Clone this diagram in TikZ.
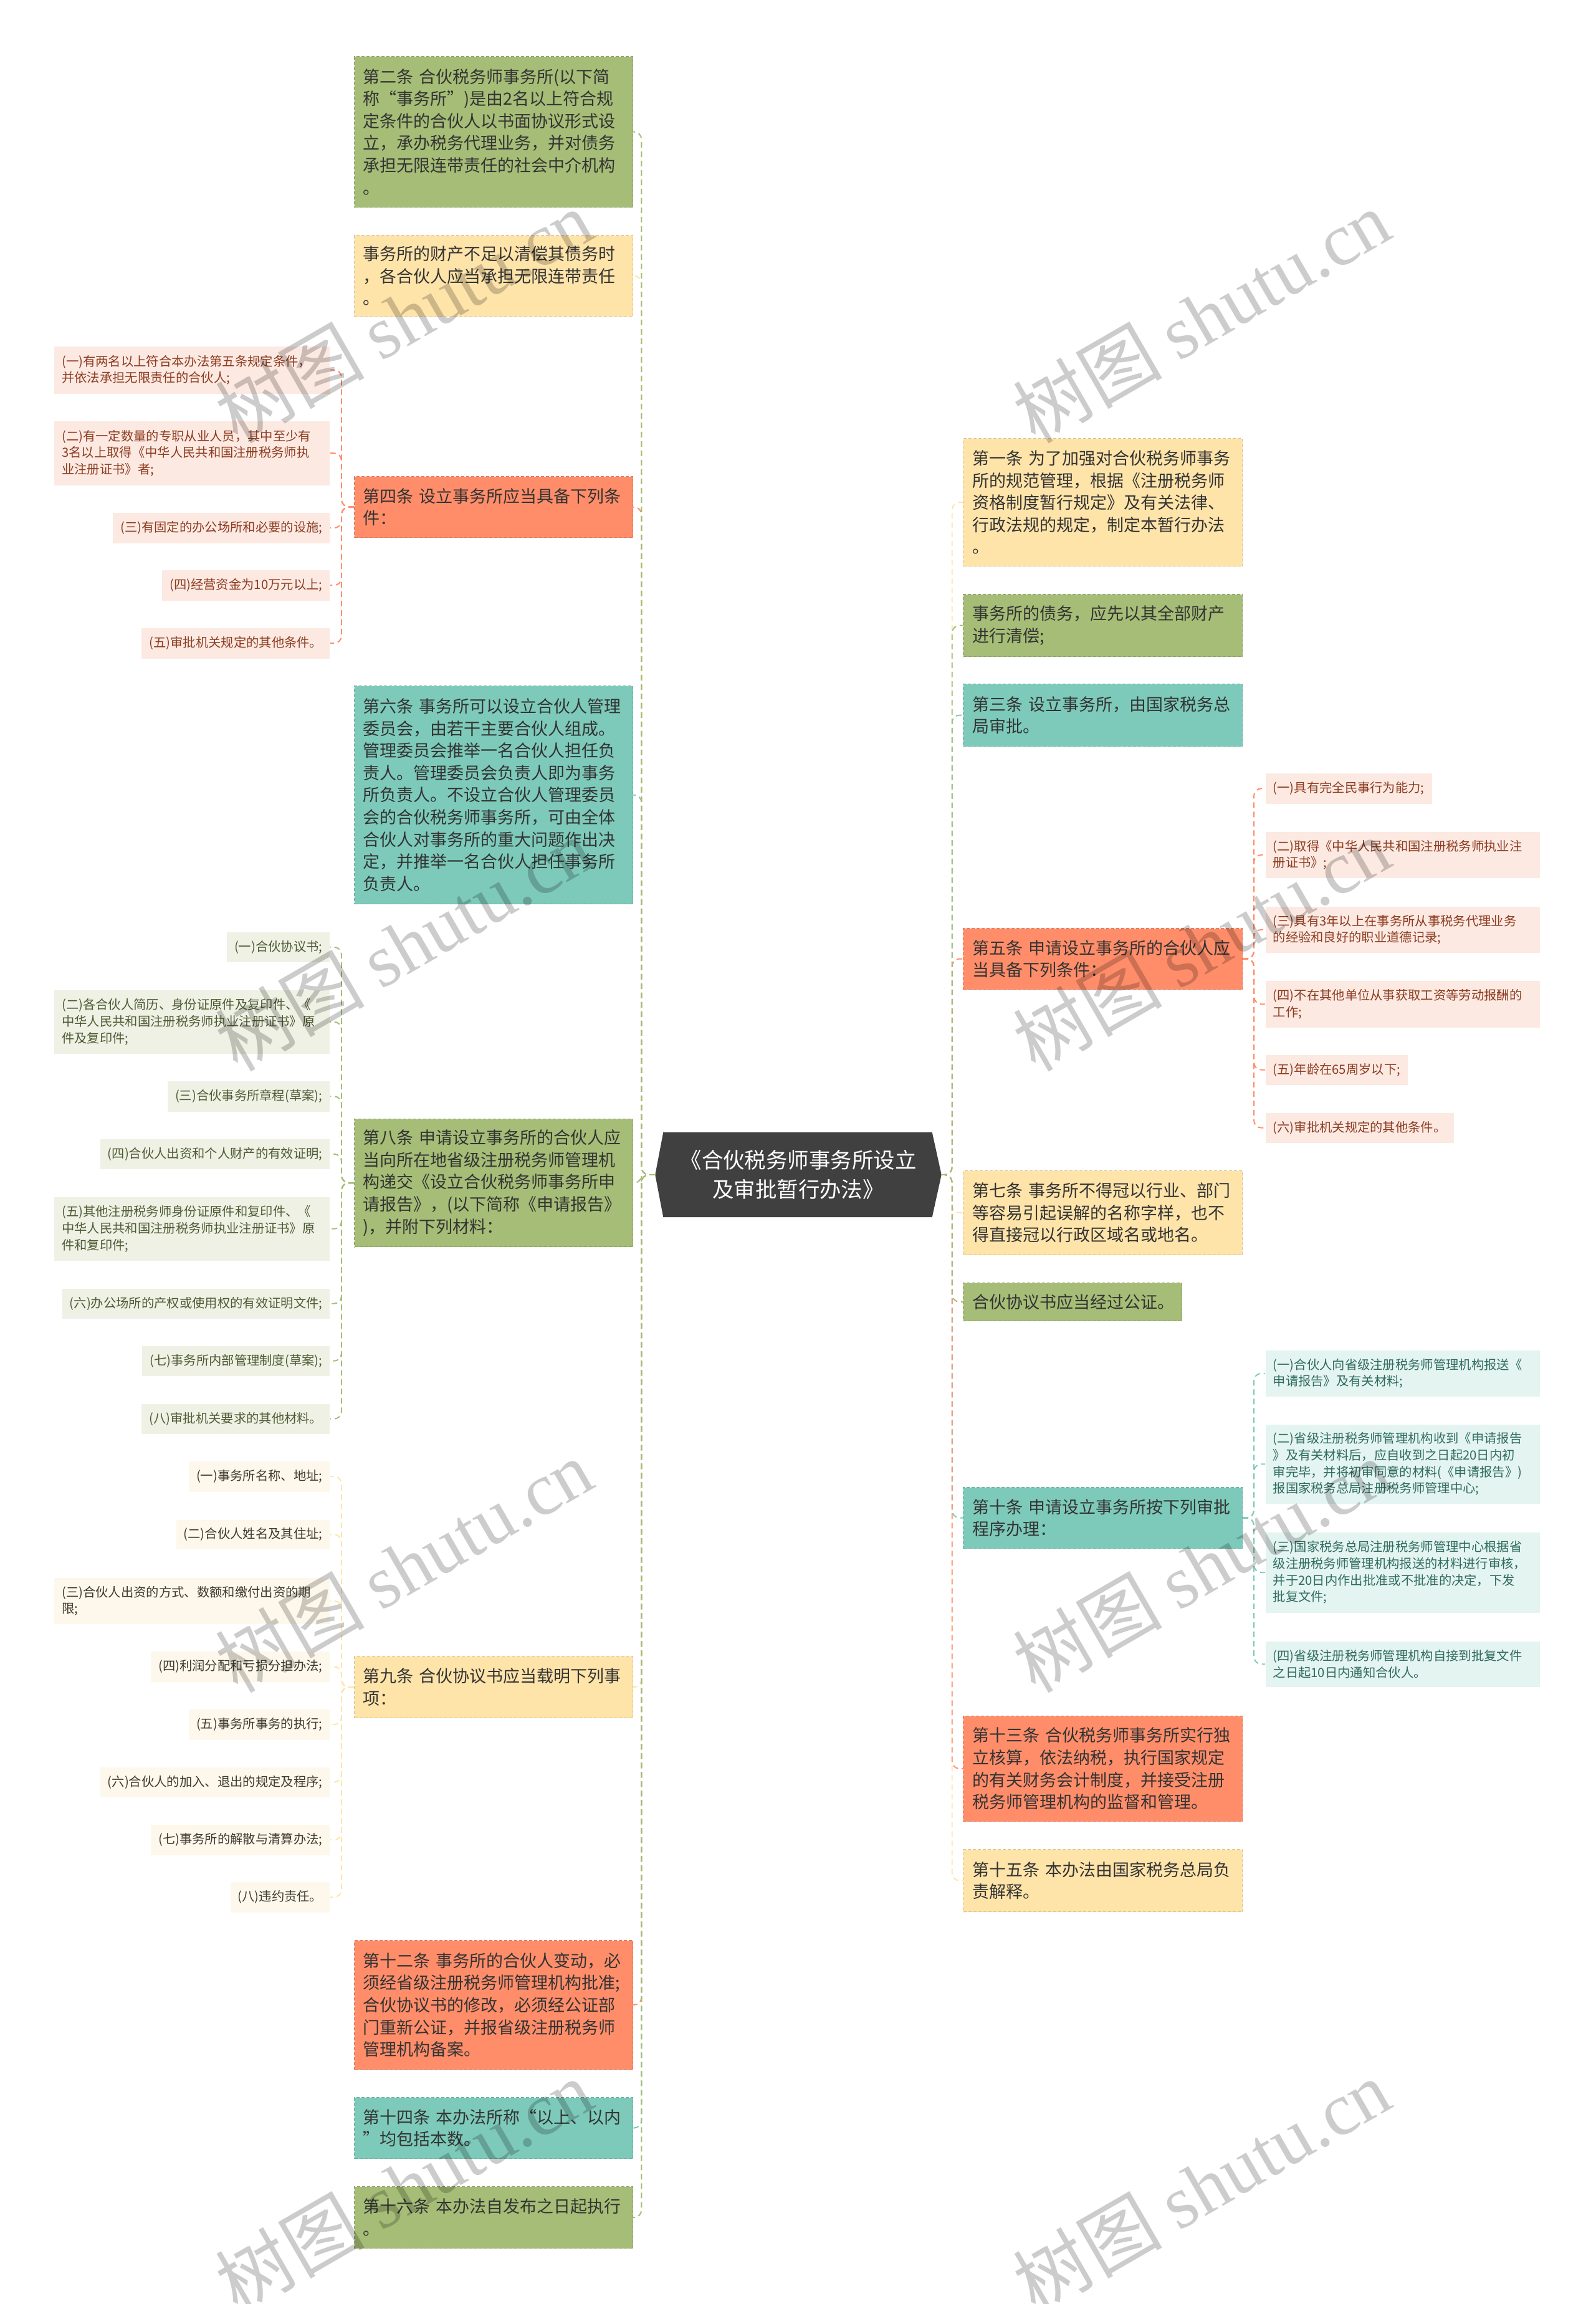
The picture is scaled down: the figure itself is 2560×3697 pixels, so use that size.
\documentclass[tikz,border=0pt]{standalone}
\usepackage{fontspec}
\setmainfont{Noto Sans CJK SC}
\newfontfamily\wmlatin{Liberation Serif}
\definecolor{cgreen}{HTML}{A5BD76}
\definecolor{cyellow}{HTML}{FFE4AA}
\definecolor{csalmon}{HTML}{FF8D6A}
\definecolor{cteal}{HTML}{7DCABA}
\definecolor{cdark}{HTML}{404040}
\definecolor{txtmain}{HTML}{333333}
\definecolor{pinkL}{HTML}{FCE9E2}
\definecolor{pinkT}{HTML}{8C3B1F}
\definecolor{greenL}{HTML}{EEF1E4}
\definecolor{greenT}{HTML}{4F5A35}
\definecolor{creamL}{HTML}{FDF8EB}
\definecolor{creamT}{HTML}{3E3A30}
\definecolor{tealL}{HTML}{E4F4F0}
\definecolor{tealT}{HTML}{2F6B5F}
\newcommand\fmain{\fontsize{7.68pt}{10.13pt}\selectfont}
\newcommand\fsmall{\fontsize{5.78pt}{7.6pt}\selectfont}
\newcommand\fcenter{\fontsize{9.8pt}{13.4pt}\selectfont}
\pgfdeclarelayer{background}
\pgfsetlayers{background,main}
\tikzset{
  mainL/.style={rectangle, anchor=north west, text width=41.9mm, inner xsep=1.4mm, inner ysep=0pt, align=left, font=\fmain, text=txtmain, line width=0.3pt, dash pattern=on 0.5mm off 0.3mm},
  mainR/.style={rectangle, anchor=north west, text width=41.8mm, inner xsep=1.5mm, inner ysep=0pt, align=left, font=\fmain, text=txtmain, line width=0.3pt, dash pattern=on 0.5mm off 0.3mm},
  cg/.style={fill=cgreen, draw=cgreen!85!black},
  cy/.style={fill=cyellow, draw=cyellow!85!black},
  cs/.style={fill=csalmon, draw=csalmon!85!black},
  ct/.style={fill=cteal, draw=cteal!85!black},
  smL/.style={rectangle, anchor=north east, inner xsep=1.2mm, inner ysep=0pt, align=left, font=\fsmall},
  smR/.style={rectangle, anchor=north west, inner xsep=1.2mm, inner ysep=0pt, align=left, font=\fsmall},
  pinkS/.style={fill=pinkL, text=pinkT},
  greenS/.style={fill=greenL, text=greenT},
  creamS/.style={fill=creamL, text=creamT},
  tealS/.style={fill=tealL, text=tealT},
  conn/.style={line width=0.55pt, dash pattern=on 0.9mm off 0.6mm, rounded corners=1.2mm},
  centernode/.style={rectangle, minimum width=45.8mm, minimum height=13.5mm, inner sep=0pt, align=center, text=white, font=\fcenter},
  wm/.style={text=black, text opacity=0.2, inner sep=0pt, rotate=30, font=\fontsize{34pt}{40pt}\selectfont}
}
\begin{document}
\begin{tikzpicture}[x=0.1mm,y=-0.1mm]
\useasboundingbox (0,0) rectangle (2560,3697);
\begin{pgfonlayer}{background}
\fill[white] (0,0) rectangle (2560,3697);
\end{pgfonlayer}

% ---------- centre ----------
\node[centernode] (C) at (1281,1885) {《合伙税务师事务所设立\\及审批暂行办法》};
\begin{pgfonlayer}{background}
\fill[cdark] (C.west) -- ([xshift=1.3mm]C.north west) -- ([xshift=-1.5mm]C.north east) -- (C.east) -- ([xshift=-1.5mm]C.south east) -- ([xshift=1.3mm]C.south west) -- cycle;
\end{pgfonlayer}

% ---------- left main nodes ----------
\node[mainL, cg, minimum height=24.2mm] (L2) at (568,90) {第二条 合伙税务师事务所(以下简\\称“事务所”)是由2名以上符合规\\定条件的合伙人以书面协议形式设\\立，承办税务代理业务，并对债务\\承担无限连带责任的社会中介机构\\。};
\node[mainL, cy, minimum height=13.0mm] (Lcc) at (568,377) {事务所的财产不足以清偿其债务时\\，各合伙人应当承担无限连带责任\\。};
\node[mainL, cs, minimum height=9.8mm] (L4) at (568,764) {第四条 设立事务所应当具备下列条\\件：};
\node[mainL, ct, minimum height=35.0mm] (L6) at (568,1100) {第六条 事务所可以设立合伙人管理\\委员会，由若干主要合伙人组成。\\管理委员会推举一名合伙人担任负\\责人。管理委员会负责人即为事务\\所负责人。不设立合伙人管理委员\\会的合伙税务师事务所，可由全体\\合伙人对事务所的重大问题作出决\\定，并推举一名合伙人担任事务所\\负责人。};
\node[mainL, cg, minimum height=20.5mm] (L8) at (568,1795) {第八条 申请设立事务所的合伙人应\\当向所在地省级注册税务师管理机\\构递交《设立合伙税务师事务所申\\请报告》，(以下简称《申请报告》\\)，并附下列材料：};
\node[mainL, cy, minimum height=9.9mm] (L9) at (568,2657) {第九条 合伙协议书应当载明下列事\\项：};
\node[mainL, cs, minimum height=20.7mm] (L12) at (568,3113) {第十二条 事务所的合伙人变动，必\\须经省级注册税务师管理机构批准;\\合伙协议书的修改，必须经公证部\\门重新公证，并报省级注册税务师\\管理机构备案。};
\node[mainL, ct, minimum height=9.8mm] (L14) at (568,3365) {第十四条 本办法所称“以上、以内\\”均包括本数。};
\node[mainL, cg, minimum height=9.9mm] (L16) at (568,3508) {第十六条 本办法自发布之日起执行\\。};

% ---------- right main nodes ----------
\node[mainR, cy, minimum height=20.5mm] (R1) at (1545,703) {第一条 为了加强对合伙税务师事务\\所的规范管理，根据《注册税务师\\资格制度暂行规定》及有关法律、\\行政法规的规定，制定本暂行办法\\。};
\node[mainR, cg, minimum height=10.0mm] (R2) at (1545,953) {事务所的债务，应先以其全部财产\\进行清偿;};
\node[mainR, ct, minimum height=10.0mm] (R3) at (1545,1097) {第三条 设立事务所，由国家税务总\\局审批。};
\node[mainR, cs, minimum height=9.8mm] (R5) at (1545,1489) {第五条 申请设立事务所的合伙人应\\当具备下列条件：};
\node[mainR, cy, minimum height=13.5mm] (R7) at (1545,1878) {第七条 事务所不得冠以行业、部门\\等容易引起误解的名称字样，也不\\得直接冠以行政区域名或地名。};
\node[mainR, cg, minimum height=6.1mm, text width=32.1mm] (R8) at (1545,2058) {合伙协议书应当经过公证。};
\node[mainR, ct, minimum height=9.8mm] (R10) at (1545,2386) {第十条 申请设立事务所按下列审批\\程序办理：};
\node[mainR, cs, minimum height=16.9mm] (R13) at (1545,2753) {第十三条 合伙税务师事务所实行独\\立核算，依法纳税，执行国家规定\\的有关财务会计制度，并接受注册\\税务师管理机构的监督和管理。};
\node[mainR, cy, minimum height=10.0mm] (R15) at (1545,2967) {第十五条 本办法由国家税务总局负\\责解释。};

% ---------- children of 第四条 ----------
\node[smL, pinkS, minimum height=7.6mm, text width=41.8mm] (a1) at (530,555) {(一)有两名以上符合本办法第五条规定条件，\\并依法承担无限责任的合伙人;};
\node[smL, pinkS, minimum height=10.3mm, text width=41.8mm] (a2) at (530,675) {(二)有一定数量的专职从业人员，其中至少有\\3名以上取得《中华人民共和国注册税务师执\\业注册证书》者;};
\node[smL, pinkS, minimum height=4.9mm] (a3) at (530,822) {(三)有固定的办公场所和必要的设施;};
\node[smL, pinkS, minimum height=4.9mm] (a4) at (530,914) {(四)经营资金为10万元以上;};
\node[smL, pinkS, minimum height=4.9mm] (a5) at (530,1007) {(五)审批机关规定的其他条件。};

% ---------- children of 第八条 ----------
\node[smL, greenS, minimum height=4.8mm] (b1) at (530,1495) {(一)合伙协议书;};
\node[smL, greenS, minimum height=10.2mm, text width=41.8mm] (b2) at (530,1588) {(二)各合伙人简历、身份证原件及复印件、《\\中华人民共和国注册税务师执业注册证书》原\\件及复印件;};
\node[smL, greenS, minimum height=4.9mm] (b3) at (530,1734) {(三)合伙事务所章程(草案);};
\node[smL, greenS, minimum height=4.8mm] (b4) at (530,1827) {(四)合伙人出资和个人财产的有效证明;};
\node[smL, greenS, minimum height=10.2mm, text width=41.8mm] (b5) at (530,1920) {(五)其他注册税务师身份证原件和复印件、《\\中华人民共和国注册税务师执业注册证书》原\\件和复印件;};
\node[smL, greenS, minimum height=4.8mm] (b6) at (530,2067) {(六)办公场所的产权或使用权的有效证明文件;};
\node[smL, greenS, minimum height=4.8mm] (b7) at (530,2159) {(七)事务所内部管理制度(草案);};
\node[smL, greenS, minimum height=4.8mm] (b8) at (530,2252) {(八)审批机关要求的其他材料。};

% ---------- children of 第九条 ----------
\node[smL, creamS, minimum height=4.9mm] (c1) at (530,2344) {(一)事务所名称、地址;};
\node[smL, creamS, minimum height=4.7mm] (c2) at (530,2438) {(二)合伙人姓名及其住址;};
\node[smL, creamS, minimum height=7.4mm, text width=41.8mm] (c3) at (530,2531) {(三)合伙人出资的方式、数额和缴付出资的期\\限;};
\node[smL, creamS, minimum height=4.9mm] (c4) at (530,2649) {(四)利润分配和亏损分担办法;};
\node[smL, creamS, minimum height=4.9mm] (c5) at (530,2742) {(五)事务所事务的执行;};
\node[smL, creamS, minimum height=4.8mm] (c6) at (530,2835) {(六)合伙人的加入、退出的规定及程序;};
\node[smL, creamS, minimum height=4.9mm] (c7) at (530,2927) {(七)事务所的解散与清算办法;};
\node[smL, creamS, minimum height=4.9mm] (c8) at (530,3019) {(八)违约责任。};

% ---------- children of 第五条 ----------
\node[smR, pinkS, minimum height=4.9mm] (d1) at (2030,1240) {(一)具有完全民事行为能力;};
\node[smR, pinkS, minimum height=7.4mm, text width=41.6mm] (d2) at (2030,1334) {(二)取得《中华人民共和国注册税务师执业注\\册证书》;};
\node[smR, pinkS, minimum height=7.4mm, text width=41.6mm] (d3) at (2030,1454) {(三)具有3年以上在事务所从事税务代理业务\\的经验和良好的职业道德记录;};
\node[smR, pinkS, minimum height=7.5mm, text width=41.6mm] (d4) at (2030,1573) {(四)不在其他单位从事获取工资等劳动报酬的\\工作;};
\node[smR, pinkS, minimum height=4.8mm] (d5) at (2030,1692) {(五)年龄在65周岁以下;};
\node[smR, pinkS, minimum height=4.8mm] (d6) at (2030,1785) {(六)审批机关规定的其他条件。};

% ---------- children of 第十条 ----------
\node[smR, tealS, minimum height=7.4mm, text width=41.6mm] (e1) at (2030,2166) {(一)合伙人向省级注册税务师管理机构报送《\\申请报告》及有关材料;};
\node[smR, tealS, minimum height=12.7mm, text width=41.6mm] (e2) at (2030,2285) {(二)省级注册税务师管理机构收到《申请报告\\》及有关材料后，应自收到之日起20日内初\\审完毕，并将初审同意的材料(《申请报告》)\\报国家税务总局注册税务师管理中心;};
\node[smR, tealS, minimum height=12.9mm, text width=41.6mm] (e3) at (2030,2458) {(三)国家税务总局注册税务师管理中心根据省\\级注册税务师管理机构报送的材料进行审核，\\并于20日内作出批准或不批准的决定，下发\\批复文件;};
\node[smR, tealS, minimum height=7.3mm, text width=41.6mm] (e4) at (2030,2633) {(四)省级注册税务师管理机构自接到批复文件\\之日起10日内通知合伙人。};

% ---------- connectors: centre to main nodes ----------
\begin{pgfonlayer}{background}
\draw[conn, cyellow] (C.west) -- ++(-22,0) |- (Lcc.east);
\draw[conn, cyellow] (C.west) -- ++(-22,0) |- (L9.east);
\draw[conn, cteal] (C.west) -- ++(-22,0) |- (L6.east);
\draw[conn, cteal] (C.west) -- ++(-22,0) |- (L14.east);
\draw[conn, csalmon] (C.west) -- ++(-22,0) |- (L4.east);
\draw[conn, csalmon] (C.west) -- ++(-22,0) |- (L12.east);
\draw[conn, cgreen] (C.west) -- ++(-22,0) |- (L2.east);
\draw[conn, cgreen] (C.west) -- ++(-22,0) |- (L8.east);
\draw[conn, cgreen] (C.west) -- ++(-22,0) |- (L16.east);

\draw[conn, cyellow] (C.east) -- ++(17,0) |- (R1.west);
\draw[conn, cyellow] (C.east) -- ++(17,0) |- (R7.west);
\draw[conn, cyellow] (C.east) -- ++(17,0) |- (R15.west);
\draw[conn, cteal] (C.east) -- ++(17,0) |- (R3.west);
\draw[conn, cteal] (C.east) -- ++(17,0) |- (R10.west);
\draw[conn, csalmon] (C.east) -- ++(17,0) |- (R5.west);
\draw[conn, csalmon] (C.east) -- ++(17,0) |- (R13.west);
\draw[conn, cgreen] (C.east) -- ++(17,0) |- (R2.west);
\draw[conn, cgreen] (C.east) -- ++(17,0) |- (R8.west);

% ---------- connectors: main nodes to children ----------
\foreach \n in {a1,a2,a3,a4,a5}
  \draw[conn, csalmon] (L4.west) -- ++(-20,0) |- (\n.east);
\foreach \n in {b1,b2,b3,b4,b5,b6,b7,b8}
  \draw[conn, cgreen] (L8.west) -- ++(-20,0) |- (\n.east);
\foreach \n in {c1,c2,c3,c4,c5,c6,c7,c8}
  \draw[conn, cyellow] (L9.west) -- ++(-20,0) |- (\n.east);
\foreach \n in {d1,d2,d3,d4,d5,d6}
  \draw[conn, csalmon] (R5.east) -- ++(18,0) |- (\n.west);
\foreach \n in {e1,e2,e3,e4}
  \draw[conn, cteal] (R10.east) -- ++(18,0) |- (\n.west);
\end{pgfonlayer}

% ---------- watermarks ----------
\node[wm] (w1) at (648,507) {树图 {\wmlatin shutu.cn}};
\node[wm] (w2) at (1928,507) {树图 {\wmlatin shutu.cn}};
\node[wm] (w3) at (648,1515) {树图 {\wmlatin shutu.cn}};
\node[wm] (w4) at (1928,1515) {树图 {\wmlatin shutu.cn}};
\node[wm] (w5) at (648,2512) {树图 {\wmlatin shutu.cn}};
\node[wm] (w6) at (1928,2512) {树图 {\wmlatin shutu.cn}};
\node[wm] (w7) at (648,3507) {树图 {\wmlatin shutu.cn}};
\node[wm] (w8) at (1928,3507) {树图 {\wmlatin shutu.cn}};
\end{tikzpicture}
\end{document}
